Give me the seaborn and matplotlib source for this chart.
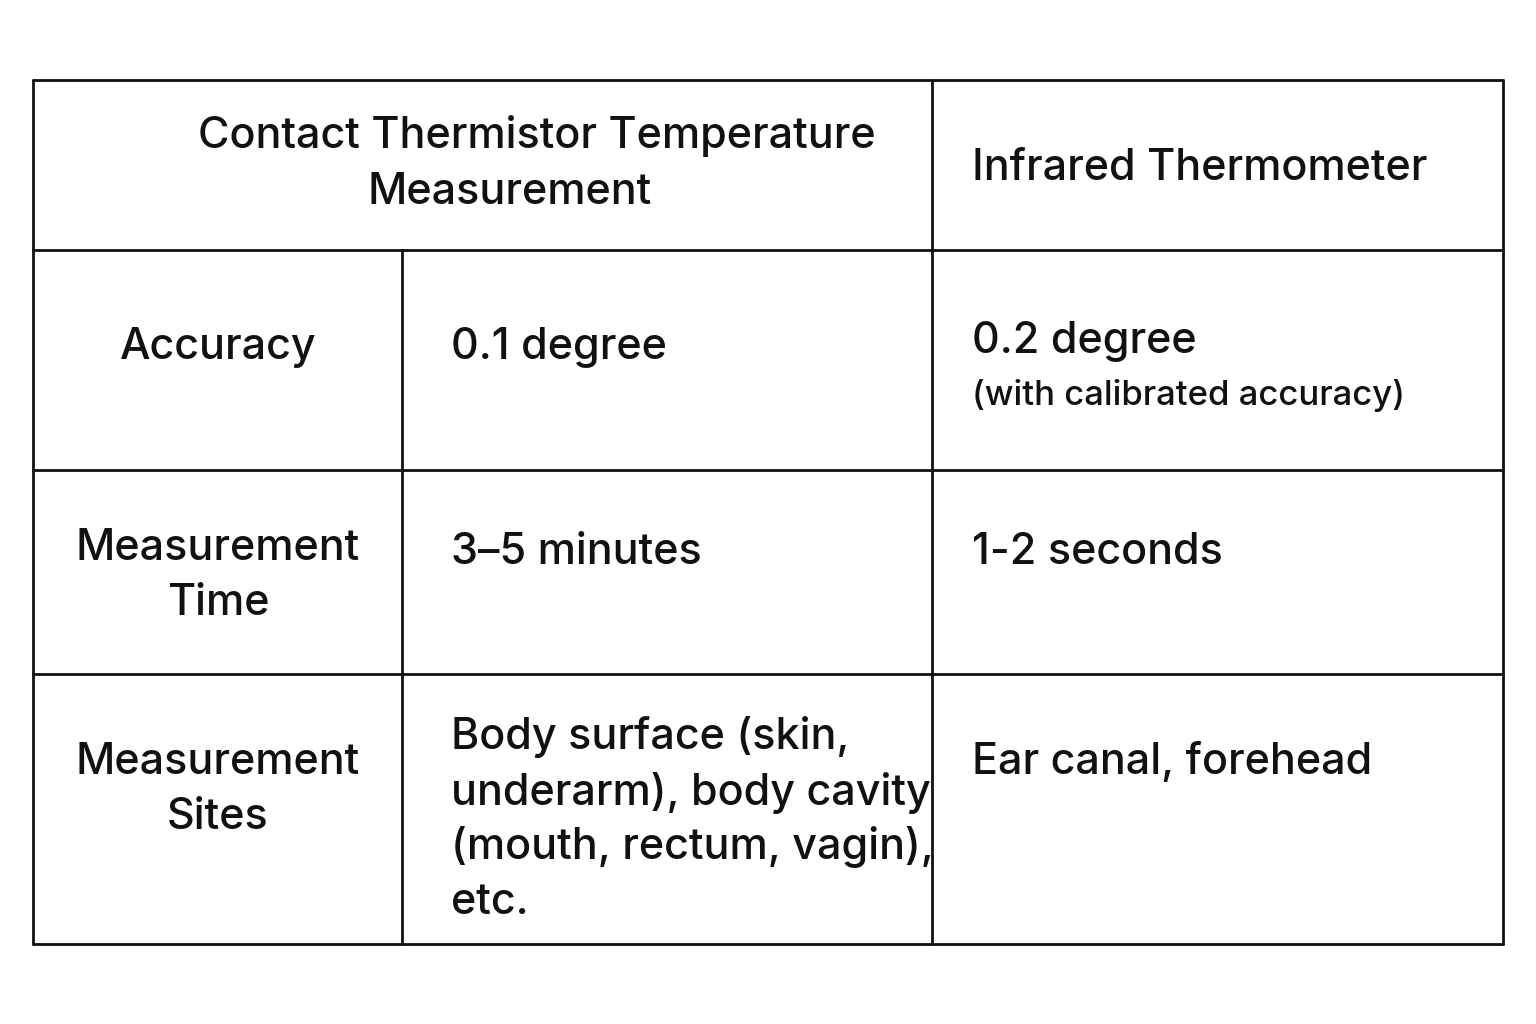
import matplotlib
matplotlib.use("Agg")
import matplotlib.pyplot as plt
import seaborn as sns

# table content
header_left = ["Contact Thermistor Temperature", "Measurement"]
header_right = "Infrared Thermometer"
row_labels = ["Accuracy", "Measurement\nTime", "Measurement\nSites"]
contact_vals = ["0.1 degree", "3\u20135 minutes",
                "Body surface (skin,\nunderarm), body cavity\n(mouth, rectum, vagin),\netc."]
infrared_vals = ["0.2 degree", "1-2 seconds", "Ear canal, forehead"]
infrared_notes = ["(with calibrated accuracy)", "", ""]

sns.set_theme(style="white")
plt.rcParams['font.family'] = ['Inter', 'DejaVu Sans']

fig = plt.figure(figsize=(15.36, 10.24), dpi=100)
ax = fig.add_axes([0, 0, 1, 1])
ax.set_xlim(0, 1536)
ax.set_ylim(1024, 0)
ax.axis("off")

L, R, T, B = 33, 1503, 80, 944
c1, c2 = 402, 932
rows = [T, 250, 470, 674, B]
kw = dict(color="#111111", lw=2)

# grid lines
for y in rows:
    ax.plot([L, R], [y, y], **kw)
ax.plot([L, L], [T, B], **kw)
ax.plot([R, R], [T, B], **kw)
ax.plot([c2, c2], [T, B], **kw)
ax.plot([c1, c1], [rows[1], B], **kw)

fs = 31
step = 55
tc = "#111111"


def put(x, y, s, ha, size=fs):
    lines = s.split("\n")
    y0 = y - step * (len(lines) - 1) / 2
    for i, ln in enumerate(lines):
        ax.text(x, y0 + i * step, ln, ha=ha, va="center", fontsize=size,
                color=tc, fontweight="medium")


put(537, 136, header_left[0], "center")
put(510, 192, header_left[1], "center")
put(972, 168, header_right, "left")

label_y = [348, 576, 790]
val_y = [348, 553, 820]
inf_y = [342, 553, 762]
for i in range(3):
    put(218, label_y[i], row_labels[i], "center")
    put(451, val_y[i], contact_vals[i], "left")
    put(972, inf_y[i], infrared_vals[i], "left")
    if infrared_notes[i]:
        put(972, inf_y[i] + 54, infrared_notes[i], "left", size=25)

fig.savefig("out.png", dpi=100)
